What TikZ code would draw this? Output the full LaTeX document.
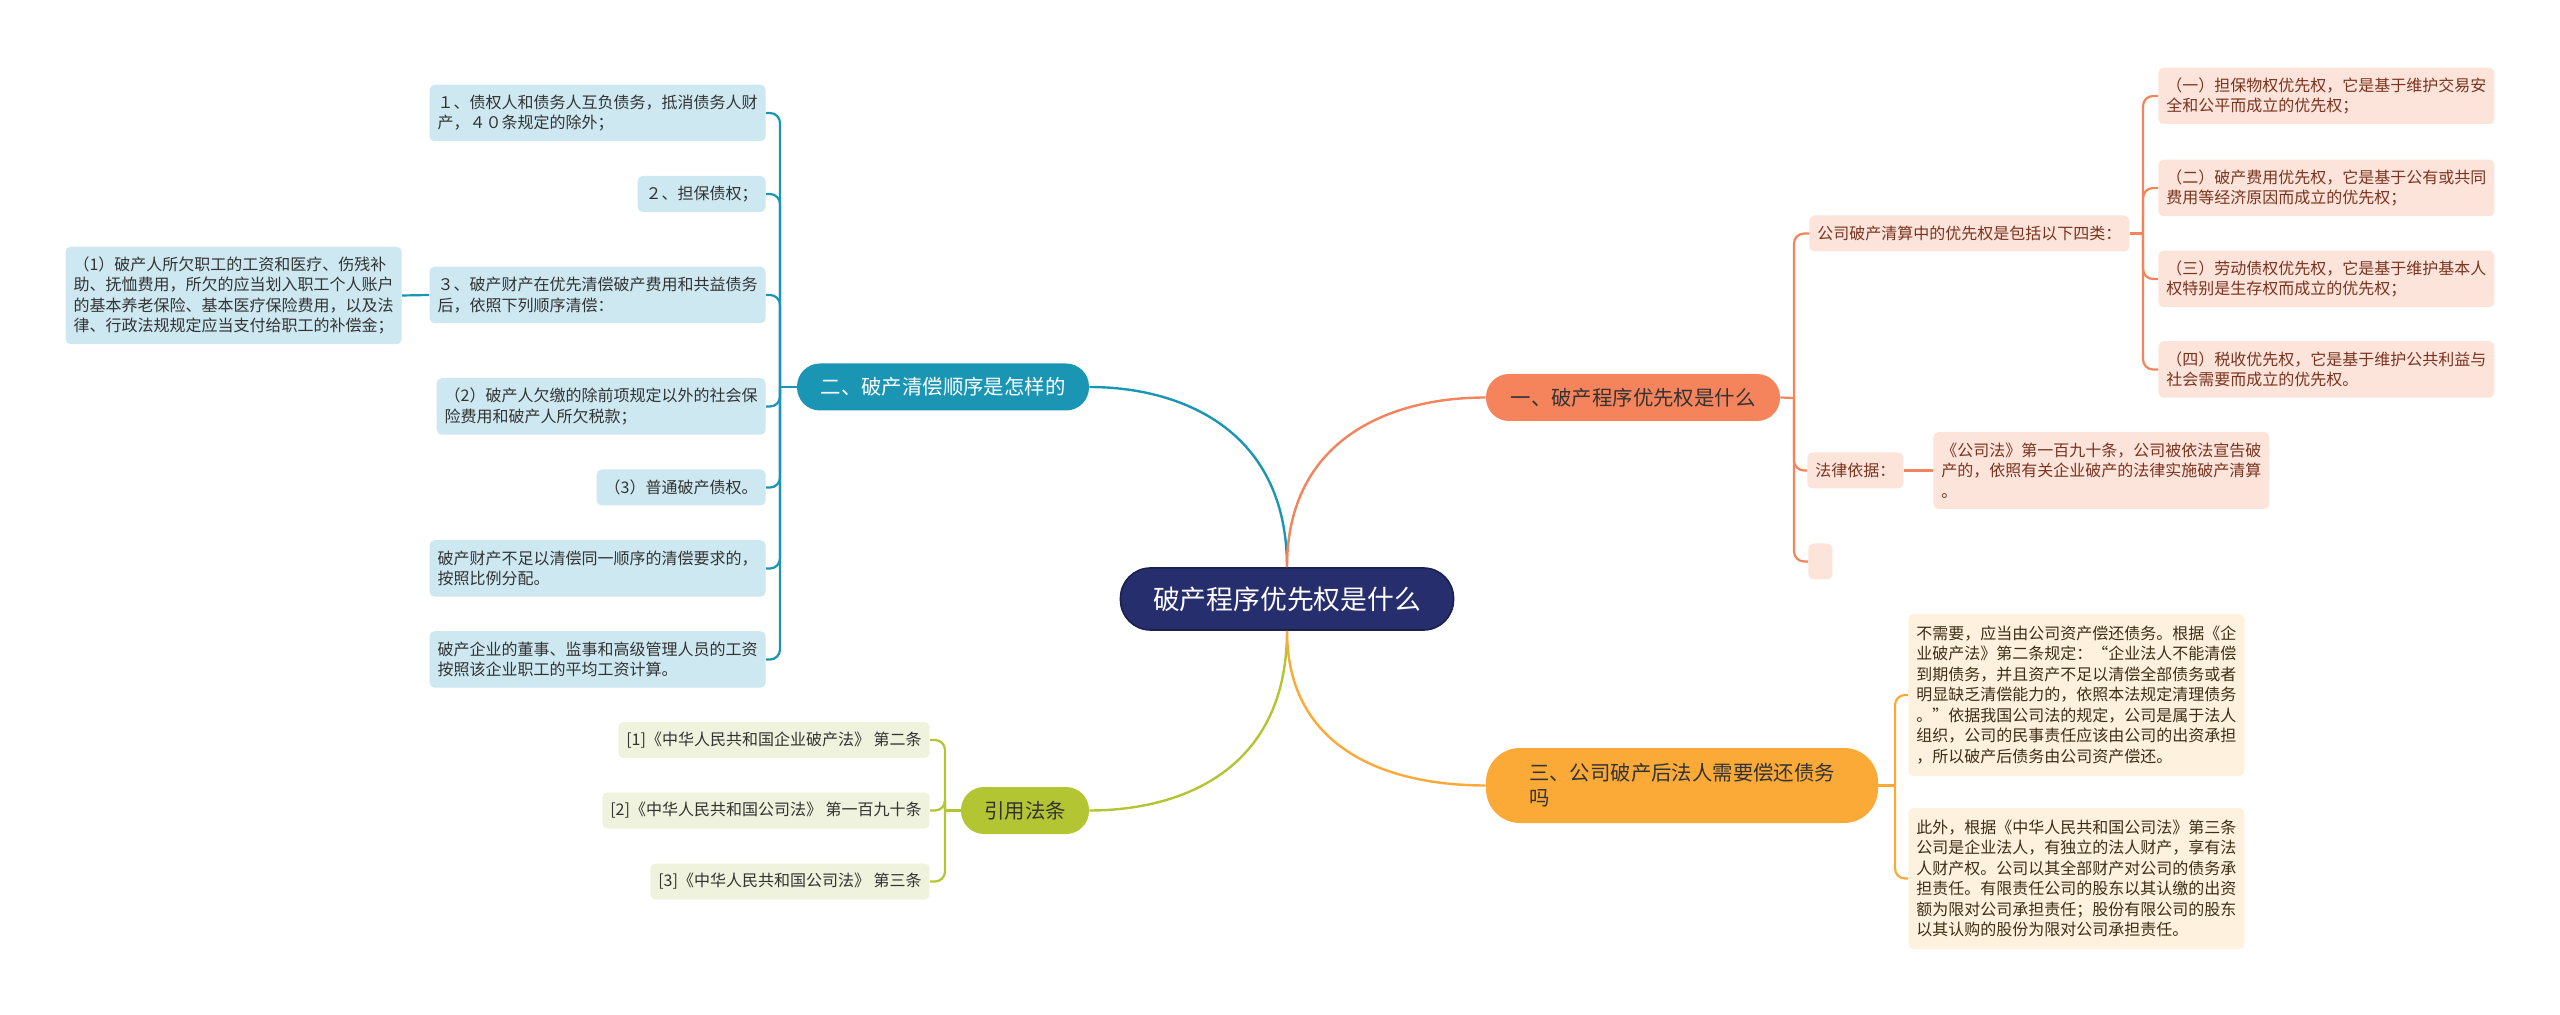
\documentclass[tikz,border=0pt]{standalone}
\usepackage{fontspec}
\setmainfont{Noto Sans CJK SC}
\definecolor{cRoot}{HTML}{272E6E}
\definecolor{cTeal}{HTML}{1A96B4}
\definecolor{cTealL}{HTML}{CDE8F1}
\definecolor{cCoral}{HTML}{F5845C}
\definecolor{cCoralL}{HTML}{FCE4DB}
\definecolor{cAmber}{HTML}{FBAA38}
\definecolor{cAmberL}{HTML}{FEF1DD}
\definecolor{cLime}{HTML}{B3C533}
\definecolor{cLimeL}{HTML}{EFF2DC}
\definecolor{cInk}{HTML}{333333}
\definecolor{cCoralInk}{HTML}{7A3420}
\definecolor{cAmberInk}{HTML}{3E2E16}
\newcommand\leaffont{\fontsize{8}{10.25}\selectfont}
\newcommand\topicfont{\fontsize{10.2}{12.5}\selectfont}
\newcommand\rootfont{\fontsize{13.4}{16}\selectfont}
\tikzset{
  rootbox/.style={rounded corners=15pt, fill=cRoot, draw=cRoot!70!black, line width=0.8pt, text=white, font=\rootfont, minimum width=166.5pt, minimum height=31pt, inner sep=0pt},
  topic/.style={rounded corners=11.5pt, fill=#1, text=cInk, font=\topicfont, minimum height=23.5pt, inner xsep=10pt, inner ysep=0pt},
  leaf/.style={rounded corners=2.5pt, fill=#1, text=cInk, font=\leaffont, align=left, inner xsep=4pt, inner ysep=1pt},
  nl/.style={minimum height={18pt+10.25pt*(#1-1)}},
  link/.style={line width=1.1pt, draw=#1, rounded corners=5pt},
  branch/.style={line width=1.2pt, draw=#1},
}
\begin{document}
\begin{tikzpicture}[x=0.5pt, y=-0.5pt]
\useasboundingbox (0,0) rectangle (2560,1015);
% centre and main topics
\node[rootbox] (root) at (1287,599) {破产程序优先权是什么};
\node[topic=cTeal, text=white, minimum width=146pt] (sec2) at (943,387) {二、破产清偿顺序是怎样的};
\node[topic=cCoral, minimum width=147pt] (sec1) at (1633,397.5) {一、破产程序优先权是什么};
\node[topic=cAmber, minimum width=196pt, minimum height=37.5pt, rounded corners=17pt, align=left] (sec3) at (1682,785.5) {三、公司破产后法人需要偿还债务\\吗};
\node[topic=cLime, minimum width=64pt] (law) at (1025,810.5) {引用法条};
\draw[branch=cTeal] (root.north) .. controls +(0,-138) and +(91,0) .. (sec2.east);
\draw[branch=cCoral] (root.north) .. controls +(0,-128) and +(-96,0) .. (sec1.west);
\draw[branch=cLime] (root.south) .. controls +(0,140) and +(91,0) .. (law.east);
\draw[branch=cAmber] (root.south) .. controls +(0,120) and +(-96,0) .. (sec3.west);
% order of repayment
\node[leaf=cTealL, nl=2, anchor=east] (ord1) at (766,113) {１、债权人和债务人互负债务，抵消债务人财\\产，４０条规定的除外；};
\node[leaf=cTealL, nl=1, anchor=east] (ord2) at (766,194) {２、担保债权；};
\node[leaf=cTealL, nl=2, anchor=east] (ord3) at (766,295) {３、破产财产在优先清偿破产费用和共益债务\\后，依照下列顺序清偿：};
\node[leaf=cTealL, nl=4, anchor=east] (ord3a) at (402,295.5) {（1）破产人所欠职工的工资和医疗、伤残补\\助、抚恤费用，所欠的应当划入职工个人账户\\的基本养老保险、基本医疗保险费用，以及法\\律、行政法规规定应当支付给职工的补偿金；};
\node[leaf=cTealL, nl=2, anchor=east] (ord4) at (766,406.5) {（2）破产人欠缴的除前项规定以外的社会保\\险费用和破产人所欠税款；};
\node[leaf=cTealL, nl=1, anchor=east] (ord5) at (766,487.5) {（3）普通破产债权。};
\node[leaf=cTealL, nl=2, anchor=east] (ord6) at (766,568.5) {破产财产不足以清偿同一顺序的清偿要求的，\\按照比例分配。};
\node[leaf=cTealL, nl=2, anchor=east] (ord7) at (766,659.5) {破产企业的董事、监事和高级管理人员的工资\\按照该企业职工的平均工资计算。};
\coordinate (j2) at (780,387);
\draw[link=cTeal] (sec2.west) -- (j2);
\foreach \n in {ord1,ord2,ord3,ord4,ord5,ord6,ord7}
  \draw[link=cTeal] (j2) |- (\n.east);
\draw[link=cTeal] (ord3.west) -- (ord3a.east);
% priority rights
\node[leaf=cCoralL, text=cCoralInk, nl=1, anchor=west] (pri) at (1809,233.5) {公司破产清算中的优先权是包括以下四类：};
\node[leaf=cCoralL, text=cCoralInk, nl=2, anchor=west] (pri1) at (2158,96) {（一）担保物权优先权，它是基于维护交易安\\全和公平而成立的优先权；};
\node[leaf=cCoralL, text=cCoralInk, nl=2, anchor=west] (pri2) at (2158,188) {（二）破产费用优先权，它是基于公有或共同\\费用等经济原因而成立的优先权；};
\node[leaf=cCoralL, text=cCoralInk, nl=2, anchor=west] (pri3) at (2158,279) {（三）劳动债权优先权，它是基于维护基本人\\权特别是生存权而成立的优先权；};
\node[leaf=cCoralL, text=cCoralInk, nl=2, anchor=west] (pri4) at (2158,369.5) {（四）税收优先权，它是基于维护公共利益与\\社会需要而成立的优先权。};
\node[leaf=cCoralL, text=cCoralInk, nl=1, anchor=west] (basis) at (1807,470.5) {法律依据：};
\node[leaf=cCoralL, text=cCoralInk, nl=3, anchor=west] (basis1) at (1933,470.5) {《公司法》第一百九十条，公司被依法宣告破\\产的，依照有关企业破产的法律实施破产清算\\。};
\node[leaf=cCoralL, nl=1, minimum width=12pt, anchor=west] (blank) at (1808,561.5) {};
\coordinate (j1) at (1794,398);
\draw[link=cCoral] (sec1.east) -- (j1);
\foreach \n in {pri,basis,blank}
  \draw[link=cCoral] (j1) |- (\n.west);
\coordinate (jp) at (2143,233.5);
\draw[link=cCoral] (pri.east) -- (jp);
\foreach \n in {pri1,pri2,pri3,pri4}
  \draw[link=cCoral] (jp) |- (\n.west);
\draw[link=cCoral] (basis.east) -- (basis1.west);
% debts after bankruptcy
\node[leaf=cAmberL, text=cAmberInk, minimum height=81pt, anchor=west] (debt1) at (1908,695) {不需要，应当由公司资产偿还债务。根据《企\\业破产法》第二条规定：“企业法人不能清偿\\到期债务，并且资产不足以清偿全部债务或者\\明显缺乏清偿能力的，依照本法规定清理债务\\。”依据我国公司法的规定，公司是属于法人\\组织，公司的民事责任应该由公司的出资承担\\，所以破产后债务由公司资产偿还。};
\node[leaf=cAmberL, text=cAmberInk, minimum height=70.5pt, anchor=west] (debt2) at (1908,878.5) {此外，根据《中华人民共和国公司法》第三条\\公司是企业法人，有独立的法人财产，享有法\\人财产权。公司以其全部财产对公司的债务承\\担责任。有限责任公司的股东以其认缴的出资\\额为限对公司承担责任；股份有限公司的股东\\以其认购的股份为限对公司承担责任。};
\coordinate (j3) at (1895,785.5);
\draw[link=cAmber] (sec3.east) -- (j3);
\foreach \n in {debt1,debt2}
  \draw[link=cAmber] (j3) |- (\n.west);
% cited articles
\node[leaf=cLimeL, nl=1, anchor=east] (law1) at (930,740) {[1]《中华人民共和国企业破产法》 第二条};
\node[leaf=cLimeL, nl=1, anchor=east] (law2) at (930,810.5) {[2]《中华人民共和国公司法》 第一百九十条};
\node[leaf=cLimeL, nl=1, anchor=east] (law3) at (930,881.5) {[3]《中华人民共和国公司法》 第三条};
\coordinate (j4) at (945,810.5);
\draw[link=cLime] (law.west) -- (j4);
\foreach \n in {law1,law2,law3}
  \draw[link=cLime] (j4) |- (\n.east);
\end{tikzpicture}
\end{document}
